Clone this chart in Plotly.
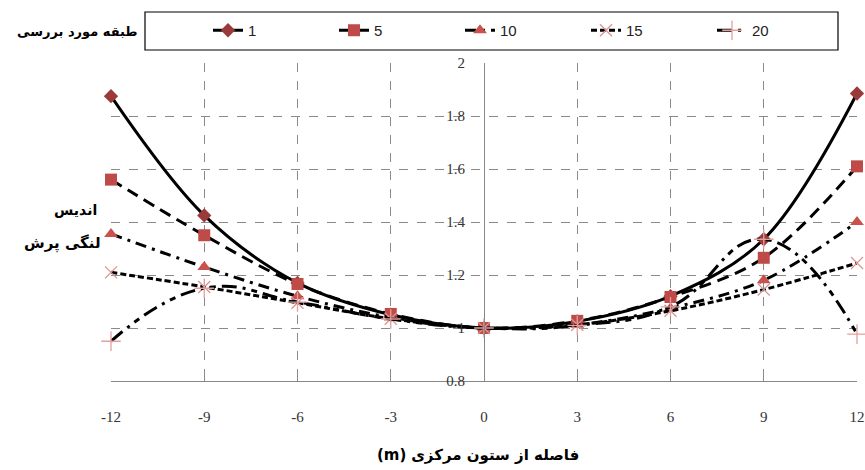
import plotly.graph_objects as go

x_vals = [-12, -9, -6, -3, 0, 3, 6, 9, 12]
s1 = [1.875, 1.425, 1.17, 1.05, 1.0, 1.025, 1.12, 1.335, 1.885]
s5 = [1.56, 1.35, 1.166, 1.053, 1.0, 1.027, 1.117, 1.265, 1.61]
s10 = [1.355, 1.23, 1.12, 1.04, 1.0, 1.012, 1.075, 1.18, 1.40]
s15 = [1.21, 1.155, 1.095, 1.035, 1.0, 1.012, 1.065, 1.145, 1.245]
s20 = [0.95, 1.15, 1.098, 1.034, 1.0, 1.01, 1.08, 1.335, 0.977]
x_ticks = [-12, -9, -6, -3, 0, 3, 6, 9, 12]
y_ticks = [0.8, 1, 1.2, 1.4, 1.6, 1.8, 2]
names = ["1", "5", "10", "15", "20"]

series = [s1, s5, s10, s15, s20]
dashes = ["solid", "12px,7px", "11px,6px,3px,6px", "6px,3px", "15px,6px,3px,6px,6px,6px"]
symbols = ["diamond", "square", "triangle-up", "x-thin", "cross-thin"]
mcolors = ["#9B3A3A", "#BE4B48", "#C9514E", "#D99594", "#E3A0A0"]
msizes = [11, 12, 12, 12, 14]
smooth = [1.0, 1.0, 1.0, 1.0, 1.3]

fig = go.Figure()
for n, s, d, sym, mc, ms, sm in zip(names, series, dashes, symbols, mcolors, msizes, smooth):
    marker = dict(symbol=sym, size=ms, color=mc)
    if sym.endswith("thin"):
        marker["line"] = dict(color=mc, width=1.3)
    fig.add_trace(go.Scatter(
        x=x_vals, y=s, name=n, mode="lines+markers",
        line=dict(color="black", width=3, dash=d, shape="spline", smoothing=sm),
        marker=marker, cliponaxis=False,
    ))

fig.update_layout(
    width=865, height=470,
    margin=dict(l=111, r=8, t=63, b=89, autoexpand=False),
    paper_bgcolor="white", plot_bgcolor="white",
    font=dict(family="Liberation Sans", size=13, color="#222"),
    showlegend=True,
    legend=dict(
        orientation="h", xref="container", yref="container",
        x=208 / 865, y=1 - 14 / 470, xanchor="left", yanchor="top",
        entrywidth=81, entrywidthmode="pixels",
        bgcolor="rgba(0,0,0,0)", borderwidth=0,
        font=dict(family="Liberation Sans", size=15, color="#222"),
        itemsizing="trace",
    ),
    xaxis=dict(
        range=[-12, 12], tickvals=x_ticks, ticktext=[str(v) for v in x_ticks],
        showgrid=True, gridcolor="#8a8a8a", griddash="dash", gridwidth=1,
        showline=True, linecolor="#888", linewidth=1,
        ticks="inside", ticklen=5, tickcolor="#888",
        ticklabelstandoff=22, zeroline=False,
        tickfont=dict(family="Liberation Sans Narrow", size=15, color="#333"),
    ),
    yaxis=dict(
        range=[0.8, 2], tickvals=y_ticks, ticktext=["0.8", "1", "1.2", "1.4", "1.6", "1.8", "2"],
        anchor="free", position=0.5,
        showgrid=True, gridcolor="#8a8a8a", griddash="dash", gridwidth=1,
        showline=True, linecolor="#888", linewidth=1,
        ticks="", ticklabelstandoff=16, zeroline=False,
        tickfont=dict(family="Liberation Sans Narrow", size=15, color="#333"),
    ),
    shapes=[dict(type="rect", xref="paper", yref="paper",
                 x0=(145 - 111) / 746, x1=(838 - 111) / 746,
                 y0=(470 - 89 - 50) / 318, y1=(470 - 89 - 12) / 318,
                 line=dict(color="black", width=1.2), fillcolor="rgba(0,0,0,0)")],
    annotations=[
        dict(text="<b>طبقه مورد بررسی</b>", xref="paper", yref="paper",
             x=(140 - 111) / 746, y=(470 - 89 - 31) / 318, xanchor="right", yanchor="middle",
             showarrow=False, font=dict(family="DejaVu Sans", size=13, color="black")),
        dict(text="<b>اندیس</b>", xref="paper", yref="paper",
             x=(75 - 111) / 746, y=(470 - 89 - 210) / 318, xanchor="center", yanchor="middle",
             showarrow=False, font=dict(family="DejaVu Sans", size=14, color="black")),
        dict(text="<b>لنگی پرش</b>", xref="paper", yref="paper",
             x=(62 - 111) / 746, y=(470 - 89 - 243) / 318, xanchor="center", yanchor="middle",
             showarrow=False, font=dict(family="DejaVu Sans", size=15, color="black")),
        dict(text="<b>(m)</b> <b>فاصله از ستون مرکزی</b>", xref="paper", yref="paper",
             x=(478 - 111) / 746, y=(470 - 89 - 455) / 318, xanchor="center", yanchor="middle",
             showarrow=False, font=dict(family="DejaVu Sans", size=15, color="black")),
    ],
)

fig.write_html("out.html")
